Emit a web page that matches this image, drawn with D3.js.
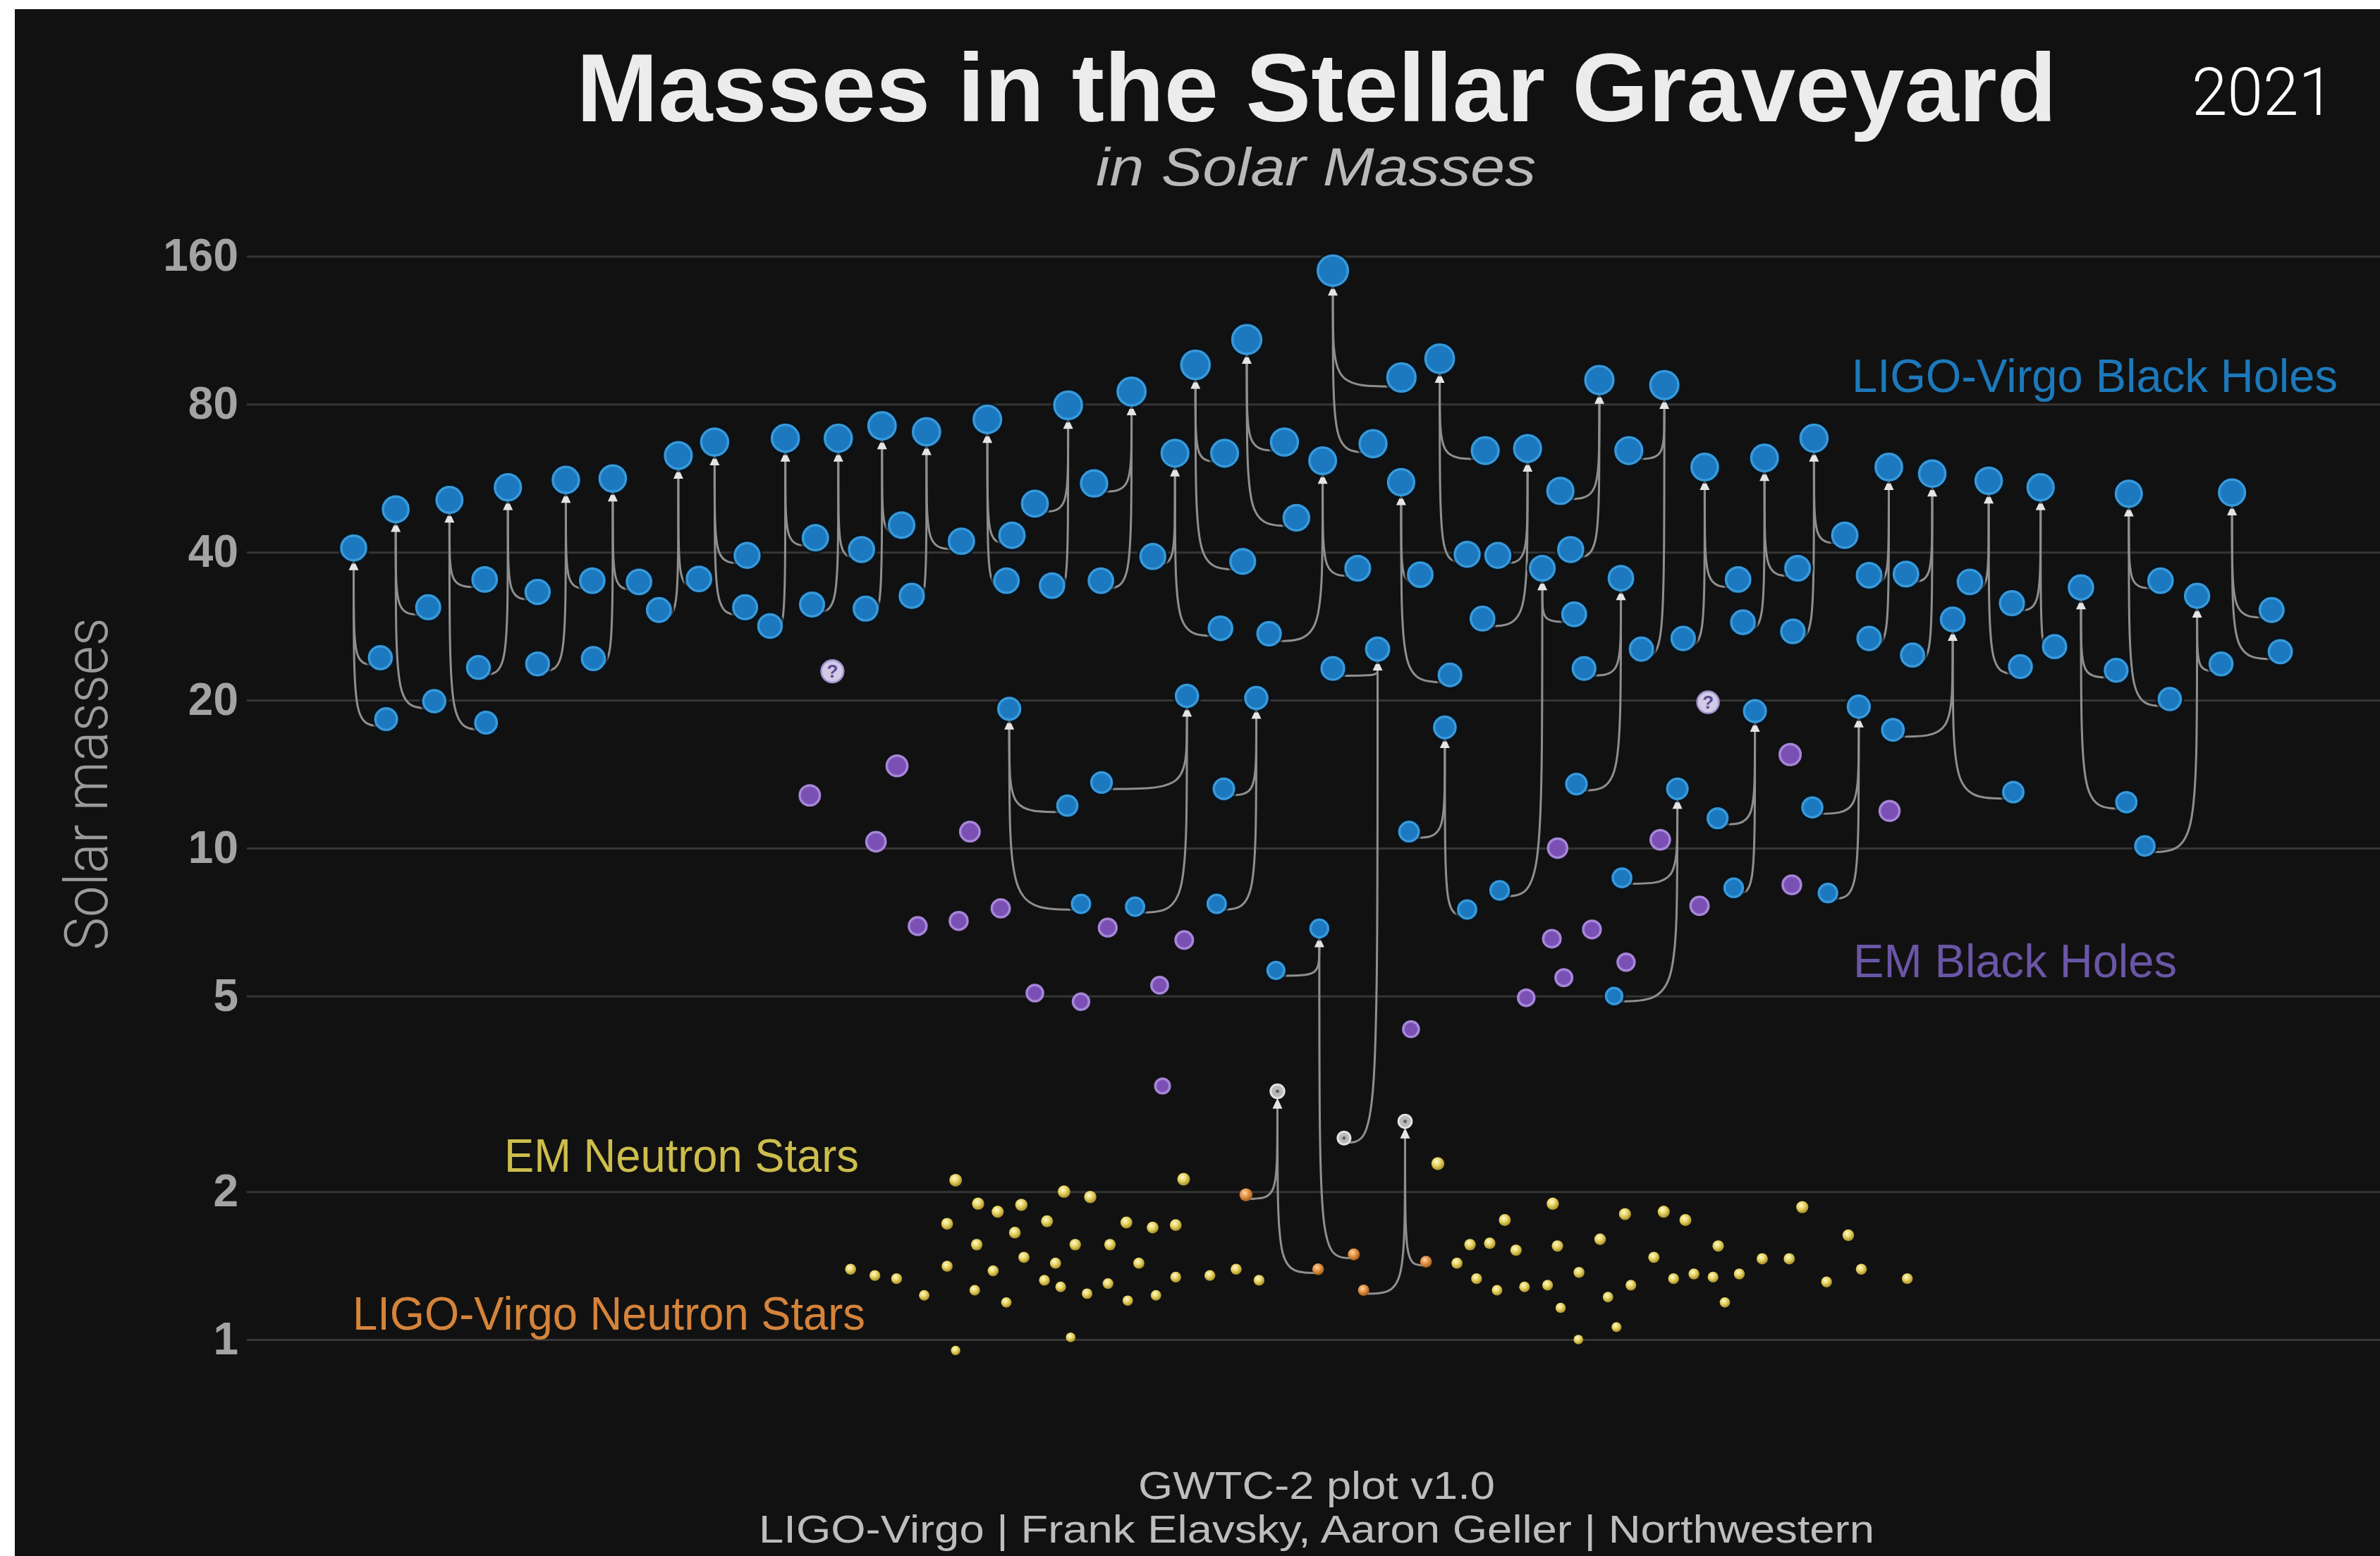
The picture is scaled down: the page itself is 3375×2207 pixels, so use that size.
<!DOCTYPE html>
<html>
<head>
<meta charset="utf-8">
<script src="https://cdn.jsdelivr.net/npm/d3@7"></script>
<style>
  html, body { margin: 0; padding: 0; background: #ffffff; }
  svg { display: block; }
</style>
</head>
<body>
<div id="chart"></div>
<script>
// ---- data (positions are layout slots, masses in solar masses) ----
const yTicks = [1, 2, 5, 10, 20, 40, 80, 160];

// black hole mergers: [finalPos, finalMass, pos1, mass1, pos2, mass2]
const bbhMergers = [
  [233.0, 40.8, 250.6, 24.4, 254.4, 18.3],
  [260.7, 48.9, 282.1, 30.9, 286.1, 19.9],
  [296.1, 51.1, 319.3, 35.2, 320.2, 18.0],
  [334.6, 54.2, 354.2, 33.2, 315.2, 23.3],
  [372.8, 56.1, 390.2, 35.0, 354.2, 23.7],
  [403.7, 56.5, 421.0, 34.8, 390.9, 24.3],
  [446.9, 62.9, 460.5, 35.3, 434.1, 30.5],
  [470.8, 67.0, 492.2, 39.4, 490.9, 30.9],
  [517.4, 68.2, 537.2, 42.8, 507.3, 28.3],
  [552.3, 68.2, 567.6, 40.5, 535.0, 31.3],
  [581.1, 72.3, 594.0, 45.4, 570.3, 30.7],
  [610.4, 70.3, 633.4, 42.1, 600.7, 32.6],
  [650.5, 74.5, 666.7, 43.3, 663.1, 35.0],
  [703.7, 79.6, 681.8, 50.2, 693.1, 34.2],
  [745.5, 84.9, 720.8, 55.2, 725.3, 35.0],
  [787.6, 96.2, 806.8, 63.6, 818.7, 38.3],
  [821.4, 108.3, 846.2, 67.0, 854.1, 47.0],
  [774.1, 63.6, 759.5, 39.2, 804.1, 28.0],
  [871.4, 61.4, 894.5, 37.1, 836.1, 27.3],
  [878.1, 149.6, 923.3, 90.7, 904.6, 66.5],
  [948.5, 99.0, 978.5, 64.4, 966.6, 39.6],
  [1006.4, 65.0, 986.8, 39.4, 976.7, 29.3],
  [923.1, 55.5, 935.7, 36.0, 955.3, 22.5],
  [1053.7, 89.6, 1028.0, 53.3, 1034.8, 40.5],
  [1096.5, 87.5, 1073.1, 64.4, 1081.4, 25.4],
  [1016.1, 37.1, 1037.1, 29.9, 988.0, 8.2],
  [1067.9, 35.4, 1043.6, 23.2, 1038.6, 13.5],
  [1123.1, 59.6, 1145.1, 35.2, 1108.9, 26.7],
  [1162.5, 62.2, 1184.3, 37.1, 1148.3, 28.8],
  [1195.1, 68.2, 1215.4, 43.3, 1181.2, 27.6],
  [1244.4, 59.6, 1231.4, 35.9, 1231.4, 26.7],
  [1273.0, 57.8, 1255.7, 36.1, 1260.0, 24.7],
  [1310.2, 55.9, 1297.8, 34.8, 1331.1, 23.4],
  [1344.4, 54.2, 1325.5, 31.5, 1353.6, 25.7],
  [1402.5, 52.6, 1423.4, 35.0, 1429.5, 20.1],
  [1470.5, 52.9, 1496.6, 30.5, 1502.3, 25.1],
  [1371.0, 33.9, 1394.2, 23.0, 1400.9, 12.4],
  [1447.5, 32.6, 1463.3, 23.7, 1413.1, 10.1],
  [1286.5, 29.2, 1247.1, 17.4, 1326.4, 13.0],
  [1224.6, 19.4, 1194.0, 12.1, 1204.3, 8.1],
  [664.9, 19.2, 703.2, 12.2, 712.2, 7.7],
  [782.0, 20.4, 725.7, 13.6, 747.8, 7.6],
  [827.7, 20.2, 806.3, 13.2, 801.6, 7.7],
  [951.9, 17.6, 928.3, 10.8, 966.6, 7.5],
  [1105.1, 13.2, 1068.6, 8.7, 1063.4, 5.0],
  [1156.2, 19.0, 1131.6, 11.5, 1142.2, 8.3]
];

// mergers with neutron stars / mass-gap objects: [pos, mass, kind]
const mixedMergers = [
  { final: [907.6, 25.4, 'bh'],  parts: [[878.1, 23.2, 'bh'], [885.5, 2.57, 'gap']] },
  { final: [869.2, 6.86, 'bh'],  parts: [[840.6, 5.64, 'bh'], [891.9, 1.49, 'ns']] },
  { final: [841.6, 3.20, 'gap'], parts: [[820.9, 1.97, 'ns'], [868.4, 1.39, 'ns']] },
  { final: [925.7, 2.78, 'gap'], parts: [[898.4, 1.26, 'ns'], [939.5, 1.44, 'ns']] }
];

// EM black holes: [pos, mass]
const emBlackHoles = [
  [533.5, 12.8], [591.0, 14.7], [577.1, 10.3], [639.0, 10.8], [604.6, 6.94],
  [631.6, 7.11], [659.3, 7.54], [729.8, 6.89], [780.2, 6.50], [681.8, 5.07],
  [712.2, 4.87], [764.0, 5.26], [765.9, 3.28], [929.6, 4.28], [1179.4, 15.5],
  [1093.8, 10.4], [1026.2, 10.0], [1119.7, 7.63], [1180.5, 8.42], [1022.4, 6.54],
  [1048.8, 6.83], [1071.3, 5.86], [1030.3, 5.45], [1005.5, 4.96], [1244.9, 11.9]
];

// uncertain objects: [pos, mass]
const unknownObjects = [[548.4, 22.9], [1125.3, 19.8]];

// EM neutron stars: [pos, mass]
const emNeutronStars = [
  [629.6, 2.11], [779.8, 2.12], [701.0, 2.00], [718.3, 1.95], [644.4, 1.89],
  [672.9, 1.88], [657.3, 1.82], [624.0, 1.72], [689.8, 1.74], [742.1, 1.73],
  [759.4, 1.69], [774.6, 1.71], [668.6, 1.65], [643.5, 1.56], [708.4, 1.56],
  [731.3, 1.56], [674.6, 1.47], [695.4, 1.43], [750.3, 1.43], [560.4, 1.39],
  [576.4, 1.35], [590.7, 1.33], [624.0, 1.41], [654.3, 1.38], [688.1, 1.32],
  [698.8, 1.28], [730.0, 1.30], [774.6, 1.34], [797.1, 1.35], [814.4, 1.39],
  [829.5, 1.32], [608.9, 1.23], [642.2, 1.26], [663.0, 1.19], [716.2, 1.24],
  [743.0, 1.20], [761.6, 1.23], [705.4, 1.01], [629.6, 0.95],
  [947.3, 2.28], [1023.0, 1.89], [1187.4, 1.86], [991.4, 1.75], [1070.6, 1.80],
  [1096.1, 1.82], [1110.4, 1.75], [1217.7, 1.63], [1054.2, 1.60], [968.5, 1.56],
  [981.5, 1.57], [998.8, 1.52], [1026.1, 1.55], [1132.0, 1.55], [959.9, 1.43],
  [1089.6, 1.47], [1161.0, 1.46], [1178.8, 1.46], [1040.3, 1.37], [972.8, 1.33],
  [1102.6, 1.33], [1116.0, 1.36], [1128.6, 1.34], [1145.9, 1.36], [1226.3, 1.39],
  [1256.6, 1.33], [1203.4, 1.31], [986.3, 1.26], [1004.4, 1.28], [1019.6, 1.29],
  [1074.5, 1.29], [1059.4, 1.22], [1136.4, 1.19], [1028.2, 1.16], [1065.0, 1.06],
  [1039.9, 1.00]
];

// ---- canvas ----
const W = 3375, H = 2207;
const svg = d3.select('#chart').append('svg')
  .attr('width', W)
  .attr('height', H);

// dark panel (thin white border on top / left like the screenshot)
svg.append('rect')
  .attr('x', 21).attr('y', 13)
  .attr('width', W - 21).attr('height', H - 13)
  .attr('fill', '#111111');

// scales
const x = d3.scaleLinear().domain([0, 1568]).range([0, W]);
const y = d3.scaleLog().domain([1, 160]).range([1900, 363.5]);
const r = d3.scaleLog().domain([5, 160]).range([11.5, 21.5]);

// gradients for the neutron stars
const defs = svg.append('defs');
function ball(id, c0, c1, c2) {
  const g = defs.append('radialGradient').attr('id', id)
    .attr('cx', '40%').attr('cy', '35%').attr('r', '70%');
  g.append('stop').attr('offset', '0%').attr('stop-color', c0);
  g.append('stop').attr('offset', '45%').attr('stop-color', c1);
  g.append('stop').attr('offset', '100%').attr('stop-color', c2);
}
ball('nsYellow', '#fffbd6', '#e8d462', '#9c8420');
ball('nsOrange', '#ffd9a8', '#e39447', '#9a5212');

// ---- axis + gridlines ----
const axis = svg.append('g')
  .attr('transform', 'translate(350,0)')
  .call(d3.axisLeft(y)
    .tickValues(yTicks)
    .tickFormat(d3.format('d'))
    .tickSize(-(W - 350))
    .tickPadding(8));
axis.select('.domain').remove();
axis.selectAll('.tick line')
  .attr('stroke', '#353535')
  .attr('stroke-width', 3);
axis.selectAll('.tick text')
  .attr('fill', '#a3a3a3')
  .attr('font-family', 'Liberation Sans, Arial, sans-serif')
  .attr('font-weight', 'bold')
  .attr('font-size', 64)
  .attr('dx', -4);

// y axis title
svg.append('text')
  .attr('transform', 'translate(152,1112) rotate(-90)')
  .attr('text-anchor', 'middle')
  .attr('fill', '#9c9c9c')
  .attr('font-family', 'Roboto, Liberation Sans, sans-serif')
  .attr('font-weight', 300)
  .attr('font-size', 86)
  .attr('textLength', 472)
  .attr('lengthAdjust', 'spacingAndGlyphs')
  .text('Solar masses');

// ---- titles ----
svg.append('text')
  .attr('x', 1867).attr('y', 172)
  .attr('text-anchor', 'middle')
  .attr('fill', '#ececec')
  .attr('font-family', 'Liberation Sans, Arial, sans-serif')
  .attr('font-weight', 'bold')
  .attr('font-size', 138)
  .attr('textLength', 2099)
  .attr('lengthAdjust', 'spacingAndGlyphs')
  .text('Masses in the Stellar Graveyard');

svg.append('text')
  .attr('x', 1866).attr('y', 263)
  .attr('text-anchor', 'middle')
  .attr('fill', '#b9b9b9')
  .attr('font-family', 'Liberation Sans, Arial, sans-serif')
  .attr('font-style', 'italic')
  .attr('font-size', 76)
  .attr('textLength', 624)
  .attr('lengthAdjust', 'spacingAndGlyphs')
  .text('in Solar Masses');

svg.append('text')
  .attr('x', 3108).attr('y', 163)
  .attr('fill', '#ffffff')
  .attr('font-family', 'Roboto, Liberation Sans, sans-serif')
  .attr('font-weight', 300)
  .attr('font-size', 95)
  .attr('textLength', 202)
  .attr('lengthAdjust', 'spacingAndGlyphs')
  .text('2021');

// ---- build points and links ----
const points = [];   // {pos, mass, kind}
const links = [];    // {f, c}
const finals = [];   // remnants that get an arrow

bbhMergers.forEach(m => {
  const f = { pos: m[0], mass: m[1], kind: 'bh' };
  const c1 = { pos: m[2], mass: m[3], kind: 'bh' };
  const c2 = { pos: m[4], mass: m[5], kind: 'bh' };
  points.push(f, c1, c2);
  finals.push(f);
  links.push({ f: f, c: c1 }, { f: f, c: c2 });
});

mixedMergers.forEach(m => {
  const f = { pos: m.final[0], mass: m.final[1], kind: m.final[2] };
  points.push(f);
  finals.push(f);
  m.parts.forEach(p => {
    const c = { pos: p[0], mass: p[1], kind: p[2] };
    points.push(c);
    links.push({ f: f, c: c });
  });
});

function radius(d) {
  if (d.kind === 'gap') return r(d.mass) + 0.5;
  return r(d.mass);
}

// curve from a component into the bottom of its remnant
function linkPath(d) {
  const xf = x(d.f.pos), yf = y(d.f.mass), rf = radius(d.f);
  const xc = x(d.c.pos), yc = y(d.c.mass), rc = radius(d.c);
  const yTop = yf + rf + 12;
  const y0 = yc + rc * 0.65;
  return `M${xc},${y0} C${xf},${y0} ${xf},${y0} ${xf},${yTop}`;
}

svg.append('g')
  .selectAll('path')
  .data(links)
  .join('path')
  .attr('d', linkPath)
  .attr('fill', 'none')
  .attr('stroke', '#8f8f8f')
  .attr('stroke-width', 3);

// arrow heads under each remnant
svg.append('g')
  .selectAll('path')
  .data(finals)
  .join('path')
  .attr('d', d => {
    const cx = x(d.pos), b = y(d.mass) + radius(d);
    return `M${cx},${b - 1} L${cx - 7},${b + 14} L${cx + 7},${b + 14} Z`;
  })
  .attr('fill', '#e4e4e4');

// ---- EM black holes (purple) ----
svg.append('g')
  .selectAll('circle')
  .data(emBlackHoles)
  .join('circle')
  .attr('cx', d => x(d[0]))
  .attr('cy', d => y(d[1]))
  .attr('r', d => r(d[1]))
  .attr('fill', '#7b50b4')
  .attr('stroke', '#a686d9')
  .attr('stroke-width', 3.5);

// ---- EM neutron stars (yellow) ----
svg.append('g')
  .selectAll('circle')
  .data(emNeutronStars)
  .join('circle')
  .attr('cx', d => x(d[0]))
  .attr('cy', d => y(d[1]))
  .attr('r', d => r(d[1]))
  .attr('fill', 'url(#nsYellow)');

// ---- merger members ----
const bh = points.filter(d => d.kind === 'bh');
svg.append('g')
  .selectAll('circle')
  .data(bh)
  .join('circle')
  .attr('cx', d => x(d.pos))
  .attr('cy', d => y(d.mass))
  .attr('r', d => radius(d) + 5)
  .attr('fill', '#07121c')
  .attr('opacity', 0.7);
svg.append('g')
  .selectAll('circle')
  .data(bh)
  .join('circle')
  .attr('cx', d => x(d.pos))
  .attr('cy', d => y(d.mass))
  .attr('r', d => radius(d))
  .attr('fill', '#1c78bf')
  .attr('stroke', '#3799da')
  .attr('stroke-width', 3.5);

svg.append('g')
  .selectAll('circle')
  .data(points.filter(d => d.kind === 'ns'))
  .join('circle')
  .attr('cx', d => x(d.pos))
  .attr('cy', d => y(d.mass))
  .attr('r', d => radius(d) + 0.5)
  .attr('fill', 'url(#nsOrange)');

const gap = svg.append('g')
  .selectAll('g')
  .data(points.filter(d => d.kind === 'gap'))
  .join('g')
  .attr('transform', d => `translate(${x(d.pos)},${y(d.mass)})`);
gap.append('circle')
  .attr('r', d => radius(d) - 1)
  .attr('fill', '#b9b9b9')
  .attr('stroke', '#e2e2e2')
  .attr('stroke-width', 3);
gap.append('circle')
  .attr('r', 2.5)
  .attr('fill', '#666666');

// ---- uncertain objects ("?") ----
const unk = svg.append('g')
  .selectAll('g')
  .data(unknownObjects)
  .join('g')
  .attr('transform', d => `translate(${x(d[0])},${y(d[1])})`);
unk.append('circle')
  .attr('r', d => r(d[1]))
  .attr('fill', '#d2cae6')
  .attr('stroke', '#a193cf')
  .attr('stroke-width', 2.5);
unk.append('text')
  .attr('text-anchor', 'middle')
  .attr('dy', '0.36em')
  .attr('fill', '#5c4b90')
  .attr('font-family', 'Liberation Sans, Arial, sans-serif')
  .attr('font-weight', 'bold')
  .attr('font-size', 26)
  .text('?');

// ---- category labels ----
const labels = [
  { text: 'LIGO-Virgo Black Holes', x: 2626, y: 556, w: 689, c: '#1c79bb' },
  { text: 'EM Black Holes', x: 2628, y: 1386, w: 459, c: '#6a56a6' },
  { text: 'EM Neutron Stars', x: 715, y: 1662, w: 503, c: '#cdbd4c' },
  { text: 'LIGO-Virgo Neutron Stars', x: 500, y: 1886, w: 727, c: '#d4843a' }
];
svg.append('g')
  .selectAll('text')
  .data(labels)
  .join('text')
  .attr('x', d => d.x)
  .attr('y', d => d.y)
  .attr('fill', d => d.c)
  .attr('font-family', 'Liberation Sans, Arial, sans-serif')
  .attr('font-size', 66)
  .attr('textLength', d => d.w)
  .attr('lengthAdjust', 'spacingAndGlyphs')
  .text(d => d.text);

// ---- footer ----
svg.append('text')
  .attr('x', 1867).attr('y', 2126)
  .attr('text-anchor', 'middle')
  .attr('fill', '#bdbdbd')
  .attr('font-family', 'Liberation Sans, Arial, sans-serif')
  .attr('font-size', 56)
  .attr('textLength', 506)
  .attr('lengthAdjust', 'spacingAndGlyphs')
  .text('GWTC-2 plot v1.0');

svg.append('text')
  .attr('x', 1867).attr('y', 2188)
  .attr('text-anchor', 'middle')
  .attr('fill', '#bdbdbd')
  .attr('font-family', 'Liberation Sans, Arial, sans-serif')
  .attr('font-size', 56)
  .attr('textLength', 1582)
  .attr('lengthAdjust', 'spacingAndGlyphs')
  .text('LIGO-Virgo | Frank Elavsky, Aaron Geller | Northwestern');
</script>
</body>
</html>
